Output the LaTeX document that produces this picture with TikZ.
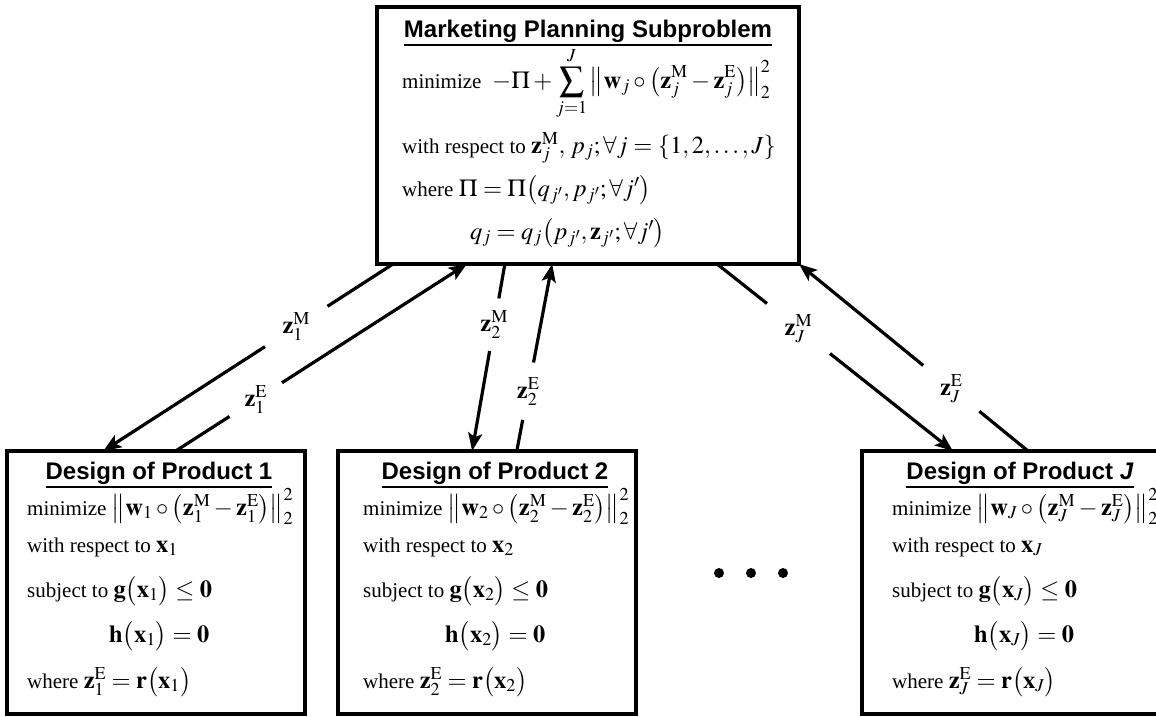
\documentclass[tikz,border=0pt]{standalone}
\usepackage{mathptmx}
\usepackage{fontspec}
\setmainfont{Liberation Serif}
\newfontfamily\hdfont{Liberation Sans}
\usetikzlibrary{arrows.meta,calc}

\newcommand\bodyfont{\fontsize{21}{25}\selectfont}
\newcommand\titlefont{\hdfont\bfseries\fontsize{24}{28}\selectfont}
% formulas are set a little larger than the words around them
\newcommand\mth[1]{{\fontsize{24.5}{28}\selectfont\(#1\)}}
% heading with a thick underline
\newcommand\ulhead[1]{\setbox0\hbox{#1}\vtop{\copy0\kern1.6pt\hrule height2.2pt}}

\tikzset{
  panel/.style={draw, rectangle, line width=3.6pt, inner sep=0pt, outer sep=0pt},
  txt/.style={anchor=base west, inner sep=0pt, font=\bodyfont},
  headtxt/.style={anchor=base, inner sep=0pt, font=\titlefont},
  plain/.style={line width=3.2pt},
  flow/.style={line width=3.2pt, -{Stealth[length=18pt,width=14pt,inset=4pt]}},
  gapnode/.style={circle, inner sep=0pt, minimum size=#1, font=\bodyfont},
  ellip/.style={circle, fill, inner sep=0pt, minimum size=10pt},
}

% one product design subproblem
\newcommand\designpanel[6]{%
  \node[panel, anchor=north west, minimum width=298pt, minimum height=263pt] (#1) at (#2,451) {};
  \node[headtxt] (#1-t) at (#4,479) {\ulhead{Design of Product #6}};
  \node[txt] (#1-a) at (#3,515) {minimize \mth{\left\|\mathbf{w}_{#5}\circ\left(\mathbf{z}_{#5}^{\mathrm{M}}-\mathbf{z}_{#5}^{\mathrm{E}}\right)\right\|_2^2}};
  \node[txt] (#1-b) at (#3,552) {with respect to \mth{\mathbf{x}_{#5}}};
  \node[txt] (#1-c) at (#3,597) {subject to \mth{\mathbf{g}\bigl(\mathbf{x}_{#5}\bigr)\le\mathbf{0}}};
  \node[txt] (#1-d) at ($(#3,642)+(82,0)$) {\mth{\mathbf{h}\bigl(\mathbf{x}_{#5}\bigr)=\mathbf{0}}};
  \node[txt] (#1-e) at (#3,688) {where \mth{\mathbf{z}_{#5}^{\mathrm{E}}=\mathbf{r}\bigl(\mathbf{x}_{#5}\bigr)}};
}

\begin{document}
\begin{tikzpicture}[x=1pt,y=-1pt]
\clip (0,0) rectangle (1156,716);

% marketing planning subproblem
\node[panel, anchor=north west, minimum width=422pt, minimum height=257pt] (mp) at (377,7) {};
\node[headtxt] (mp-t) at (588,37) {\ulhead{Marketing Planning Subproblem}};
\node[txt] (mp-a) at (402,88) {minimize \mth{\;-\Pi+\displaystyle\sum_{j=1}^{J}\left\|\mathbf{w}_j\circ\left(\mathbf{z}_j^{\mathrm{M}}-\mathbf{z}_j^{\mathrm{E}}\right)\right\|_2^2}};
\node[txt] (mp-b) at (402,153) {with respect to \mth{\mathbf{z}_j^{\mathrm{M}},\,p_j;\forall j=\{1,2,\dots,J\}}};
\node[txt] (mp-c) at (402,196) {where \mth{\Pi=\Pi\bigl(q_{j'},p_{j'};\forall j'\bigr)}};
\node[txt] (mp-d) at (470,239) {\mth{q_j=q_j\bigl(p_{j'},\mathbf{z}_{j'};\forall j'\bigr)}};

% product design subproblems
\designpanel{d1}{7}{27}{159}{1}{1}
\designpanel{d2}{338}{363}{495}{2}{2}
\designpanel{dJ}{862}{892}{1020}{J}{\textit{J}}

% ellipsis between products
\node[ellip] (dot1) at (719,573) {};
\node[ellip] (dot2) at (751,573) {};
\node[ellip] (dot3) at (783,573) {};

% end points of the links on the box edges
\coordinate (s1m) at ($(mp.south west)!0.038!(mp.south east)$);
\coordinate (e1m) at ($(d1.north west)!0.323!(d1.north east)$);
\coordinate (s1e) at ($(d1.north west)!0.566!(d1.north east)$);
\coordinate (e1e) at ($(mp.south west)!0.213!(mp.south east)$);
\coordinate (s2m) at ($(mp.south west)!0.303!(mp.south east)$);
\coordinate (e2m) at ($(d2.north west)!0.450!(d2.north east)$);
\coordinate (s2e) at ($(d2.north west)!0.600!(d2.north east)$);
\coordinate (e2e) at ($(mp.south west)!0.415!(mp.south east)$);
\coordinate (sJm) at ($(mp.south west)!0.806!(mp.south east)$);
\coordinate (eJm) at ($(dJ.north west)!0.305!(dJ.north east)$);
\coordinate (sJe) at ($(dJ.north west)!0.557!(dJ.north east)$);
\coordinate (eJe) at (mp.south east);

% labels sitting in the breaks of the links
\node[gapnode=74pt] (l1m) at ($(s1m)!0.334!(e1m)$) {\mth{\mathbf{z}_1^{\mathrm{M}}}};
\node[gapnode=62pt] (l1e) at ($(s1e)!0.275!(e1e)$) {\mth{\mathbf{z}_1^{\mathrm{E}}}};
\node[gapnode=53pt] (l2m) at ($(s2m)!0.325!(e2m)$) {\mth{\mathbf{z}_2^{\mathrm{M}}}};
\node[gapnode=58pt] (l2e) at ($(s2e)!0.320!(e2e)$) {\mth{\mathbf{z}_2^{\mathrm{E}}}};
\node[gapnode=80pt] (lJm) at ($(sJm)!0.345!(eJm)$) {\mth{\mathbf{z}_J^{\mathrm{M}}}};
\node[gapnode=72pt] (lJe) at ($(sJe)!0.335!(eJe)$) {\mth{\mathbf{z}_J^{\mathrm{E}}}};

% links
\draw[plain] (s1m) -- (l1m);  \draw[flow] (l1m) -- (e1m);
\draw[plain] (s1e) -- (l1e);  \draw[flow] (l1e) -- (e1e);
\draw[plain] (s2m) -- (l2m);  \draw[flow] (l2m) -- (e2m);
\draw[plain] (s2e) -- (l2e);  \draw[flow] (l2e) -- (e2e);
\draw[plain] (sJm) -- (lJm);  \draw[flow] (lJm) -- (eJm);
\draw[plain] (sJe) -- (lJe);  \draw[flow] (lJe) -- (eJe);
\end{tikzpicture}
\end{document}
